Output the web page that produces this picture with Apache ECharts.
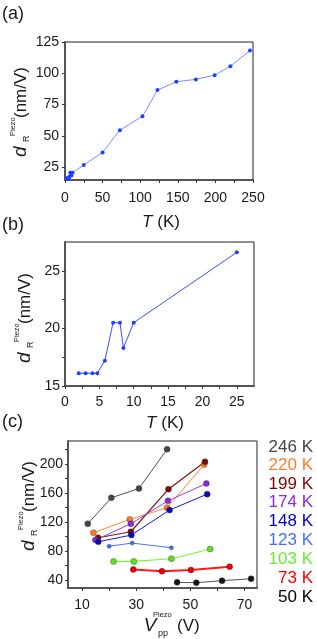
<!DOCTYPE html>
<html><head><meta charset="utf-8">
<script src="https://cdn.jsdelivr.net/npm/echarts@6/dist/echarts.min.js"></script>
<style>html,body{margin:0;padding:0;background:#fff}#c{width:317px;height:639px}</style>
</head><body><div id="c"></div>
<script>
// ---- Panel (a)/(b) data: temperature (K) vs d_R^Piezo (nm/V)
const tempA = [2, 3, 4, 4.7, 5.8, 7, 8, 8.5, 10, 25, 50, 73, 103, 123, 148, 174, 199, 220, 246];
const dA = [16.1, 16.1, 16.1, 16.1, 17.2, 20.5, 20.5, 18.3, 20.5, 26.6, 36.7, 54.5, 65.6, 86.6, 93.2, 95.1, 98.5, 105.7, 118.2];

// ---- Panel (c) data: Vpp (V) vs d_R^Piezo (nm/V) per temperature
const cNames = ['246 K', '220 K', '199 K', '174 K', '148 K', '123 K', '103 K', '73 K', '50 K'];
const v246 = [12.1, 20.8, 31.0, 41.4], d246 = [117.7, 153.6, 166.4, 220.7];
const v220 = [14.2, 27.6, 41.4, 55.1], d220 = [105.3, 123.7, 139.8, 199.5];
const v199 = [15.9, 28.0, 41.9, 55.4], d199 = [98.4, 106.7, 165.5, 203.2];
const v174 = [14.9, 28.0, 41.7, 55.9], d174 = [95.2, 117.7, 149.4, 173.3];
const v148 = [16.0, 28.2, 42.3, 56.2], d148 = [92.9, 102.1, 136.6, 158.6];
const v123 = [20.0, 28.5, 43.0], d123 = [86.7, 91.0, 84.6];
const v103 = [21.6, 29.1, 43.0, 57.3], d103 = [65.7, 65.7, 69.4, 82.8];
const v73 = [28.9, 39.5, 50.2, 64.5], d73 = [54.7, 52.0, 53.8, 58.4];
const v50 = [45.1, 52.2, 61.7, 72.4], d50 = [36.8, 36.3, 39.1, 41.8];

// ---- Tick labels
const xLabA = [0, 50, 100, 150, 200, 250], xTickA = [0, 25, 50, 75, 100, 125, 150, 175, 200, 225, 250];
const yLabA = [25, 50, 75, 100, 125];
const xLabB = [0, 5, 10, 15, 20, 25], xTickB = [0, 2.5, 5, 7.5, 10, 12.5, 15, 17.5, 20, 22.5, 25];
const yLabB = [15, 20, 25], yTickB = [15, 17.5, 20, 22.5, 25];
const xLabC = [10, 30, 50, 70], xTickC = [10, 20, 30, 40, 50, 60, 70];
const yLabC = [40, 80, 120, 160, 200], yTickC = [40, 60, 80, 100, 120, 140, 160, 180, 200, 220];

const FONT = "'Liberation Sans', Arial, sans-serif";
const cVs = [v246, v220, v199, v174, v148, v123, v103, v73, v50];
const cDs = [d246, d220, d199, d174, d148, d123, d103, d73, d50];
const lineCols = ['#505050', '#ff8a30', '#8b1414', '#9a3ae8', '#1a1ac8', '#4a72ff', '#7ef040', '#ff1a1a', '#555555'];
const dotCols = ['#454545', '#ff7a1a', '#7a0a0a', '#8a2be2', '#0a0ab8', '#3f6aff', '#5fe020', '#ee0000', '#151515'];
const legCols = ['#444444', '#ff7f27', '#8b0000', '#8a2be2', '#0000cc', '#3f6fff', '#66ee33', '#ff0000', '#000000'];
const lineW = [1, 1, 1.2, 1, 1, 1, 1.2, 2, 1];
const symS = [6, 6, 6, 6, 6, 4, 6, 6, 6];

function zip(a, b) { return a.map((v, i) => [v, b[i]]); }

function xAx(idx, min, max, labs, ticks, margin) {
  return {
    type: 'value', gridIndex: idx, min: min, max: max,
    axisLine: { show: true, lineStyle: { color: '#555', width: 2 } },
    axisTick: { show: true, inside: false, length: 3, customValues: ticks, lineStyle: { color: '#333' } },
    axisLabel: { customValues: labs, fontSize: 14, color: '#1a1a1a', fontFamily: FONT, margin: margin },
    splitLine: { show: false }
  };
}
function yAx(idx, min, max, labs, ticks, margin) {
  return {
    type: 'value', gridIndex: idx, min: min, max: max,
    axisLine: { show: true, lineStyle: { color: '#555', width: 2 } },
    axisTick: { show: true, inside: false, length: 3, customValues: ticks, lineStyle: { color: '#333' } },
    axisLabel: { customValues: labs, fontSize: 14, color: '#1a1a1a', fontFamily: FONT, margin: margin },
    splitLine: { show: false }
  };
}

function yTitle(cx, bottom) {
  return {
    type: 'group', x: cx, y: bottom, rotation: Math.PI / 2,
    children: [
      { type: 'text', x: 0, y: 0, style: { text: 'd', fontSize: 19, fontStyle: 'italic', fontFamily: FONT, fill: '#1a1a1a', textAlign: 'left', textVerticalAlign: 'middle' } },
      { type: 'text', x: 15, y: 6, style: { text: 'R', fontSize: 9, fontFamily: FONT, fill: '#1a1a1a', textAlign: 'left', textVerticalAlign: 'middle' } },
      { type: 'text', x: 21, y: -8, style: { text: 'Piezo', fontSize: 7.5, fontFamily: FONT, fill: '#1a1a1a', textAlign: 'left', textVerticalAlign: 'middle' } },
      { type: 'text', x: 39, y: 0, style: { text: '(nm/V)', fontSize: 17, fontFamily: FONT, fill: '#1a1a1a', textAlign: 'left', textVerticalAlign: 'middle' } }
    ]
  };
}
function tTitle(cx, cy) {
  return {
    type: 'text', x: cx, y: cy,
    style: { text: '{i|T} (K)', fontSize: 17, fontFamily: FONT, fill: '#1a1a1a', textAlign: 'center', textVerticalAlign: 'middle',
      rich: { i: { fontStyle: 'italic', fontSize: 17, fontFamily: FONT, fill: '#1a1a1a' } } }
  };
}
function panelLabel(txt, x, y) {
  return { type: 'text', x: x, y: y, style: { text: txt, fontSize: 18, fontFamily: FONT, fill: '#1a1a1a', textAlign: 'left', textVerticalAlign: 'middle' } };
}

const graphics = [
  panelLabel('(a)', 2, 14), panelLabel('(b)', 2, 225), panelLabel('(c)', 2, 422),
  yTitle(21, 157), yTitle(25, 363), yTitle(29, 551),
  tTitle(161, 222), tTitle(165, 423),
  { type: 'text', x: 150, y: 626, style: { text: 'V', fontSize: 19, fontStyle: 'italic', fontFamily: FONT, fill: '#1a1a1a', textAlign: 'center', textVerticalAlign: 'middle' } },
  { type: 'text', x: 158, y: 634, style: { text: 'pp', fontSize: 9, fontFamily: FONT, fill: '#1a1a1a', textAlign: 'left', textVerticalAlign: 'middle' } },
  { type: 'text', x: 153, y: 615, style: { text: 'Piezo', fontSize: 7.5, fontFamily: FONT, fill: '#1a1a1a', textAlign: 'left', textVerticalAlign: 'middle' } },
  { type: 'text', x: 177, y: 626, style: { text: '(V)', fontSize: 17, fontFamily: FONT, fill: '#1a1a1a', textAlign: 'left', textVerticalAlign: 'middle' } }
];
const legY = [447, 465.5, 484, 502.5, 521, 540, 559, 578, 597];
cNames.forEach((n, i) => {
  graphics.push({ type: 'text', x: 313, y: legY[i], style: { text: n, fontSize: 17, fontFamily: FONT, fill: legCols[i], textAlign: 'right', textVerticalAlign: 'middle' } });
});

const series = [
  { type: 'line', xAxisIndex: 0, yAxisIndex: 0, data: zip(tempA, dA), symbol: 'circle', symbolSize: 4,
    lineStyle: { color: '#7d8cff', width: 1 }, itemStyle: { color: '#2040ff' }, silent: true },
  { type: 'line', xAxisIndex: 1, yAxisIndex: 1, data: zip(tempA, dA).filter(p => p[0] <= 25), symbol: 'circle', symbolSize: 4,
    lineStyle: { color: '#3a50ff', width: 1 }, itemStyle: { color: '#2040ff' }, silent: true }
];
cNames.forEach((n, i) => {
  series.push({
    type: 'line', name: n, xAxisIndex: 2, yAxisIndex: 2, data: zip(cVs[i], cDs[i]),
    symbol: 'circle', symbolSize: symS[i],
    lineStyle: { color: lineCols[i], width: lineW[i] },
    itemStyle: { color: dotCols[i], borderColor: '#333', borderWidth: 0.4, opacity: 1 }, silent: true
  });
});

const option = {
  animation: false,
  backgroundColor: '#fff',
  textStyle: { fontFamily: FONT },
  grid: [
    { left: 65, top: 42, width: 188, height: 138, show: true, borderColor: '#222', borderWidth: 1 },
    { left: 65, top: 242, width: 189, height: 144, show: true, borderColor: '#222', borderWidth: 1 },
    { left: 68, top: 441, width: 189, height: 147, show: true, borderColor: '#222', borderWidth: 1 }
  ],
  xAxis: [
    xAx(0, 0, 250, xLabA, xTickA, 11),
    xAx(1, 0, 27.5, xLabB, xTickB, 9),
    xAx(2, 4.8, 74.6, xLabC, xTickC, 10)
  ],
  yAxis: [
    yAx(0, 14.6, 125, yLabA, yLabA, 6),
    yAx(1, 15, 27.5, yLabB, yTickB, 5),
    yAx(2, 29, 232, yLabC, yTickC, 5)
  ],
  graphic: graphics,
  series: series
};
const chart = echarts.init(document.getElementById('c'), null, { renderer: 'canvas' });
chart.setOption(option);
</script></body></html>
